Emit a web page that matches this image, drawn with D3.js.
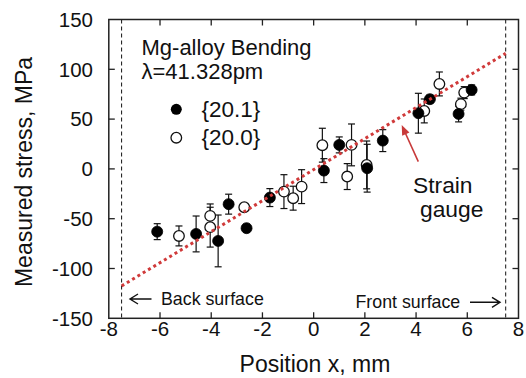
<!DOCTYPE html>
<html><head><meta charset="utf-8">
<script src="https://cdn.jsdelivr.net/npm/d3@7"></script>
<style>body{margin:0;background:#fff;} text{font-family:"Liberation Sans",Arial,Helvetica,sans-serif;fill:#111;}</style>
</head><body><svg id="c" width="526" height="378"></svg>
<script>
// {20.1} filled: position (mm), stress (MPa), error (MPa)
const filledX   = [-6.11,-4.59,-3.73,-3.32,-2.62,-1.71,0.40,1.00,2.09,2.70,4.09,4.54,6.17,5.66];
const filledY   = [-63.0,-65.3,-72.3,-35.4,-59.5,-28.8,-1.7,24.1,0.7,28.4,55.9,70.0,79.3,55.2];
const filledErr = [8,18,26,10,4,9,12,8,24,11,20,4,5,8];
// {20.0} open
const openX   = [-5.26,-4.04,-4.04,-2.71,-1.16,-0.80,-0.47,0.34,1.31,1.48,2.07,4.32,4.91,5.75,5.88];
const openY   = [-67.3,-47.2,-58.5,-38.5,-22.8,-29.4,-17.8,23.8,-7.7,24.1,4.0,58.2,85.3,65.0,76.6];
const openErr = [10,12,20,3,17,12,17,17,13,21,24,12,12,6,6];
// strain gauge fit line
const fitX = [-7.5, 7.5];
const fitY = [-117.5, 116];
// surfaces
const surfaceX = [-7.5, 7.5];
const xTicks = [-8,-6,-4,-2,0,2,4,6,8];
const yTicks = [-150,-100,-50,0,50,100,150];
const seriesNames = ["{20.1}", "{20.0}"];

const svg = d3.select("#c");
const x = d3.scaleLinear().domain([-8,8]).range([108.8,518.5]);
const y = d3.scaleLinear().domain([-150,150]).range([318.3,19.5]);

// surface dashed lines
svg.selectAll(".surf").data(surfaceX).enter().append("line")
  .attr("x1",d=>x(d)).attr("x2",d=>x(d)).attr("y1",y(150)).attr("y2",y(-150))
  .attr("stroke","#111").attr("stroke-width",1).attr("stroke-dasharray","4,3");

// frame & ticks
const g = svg.append("g");
g.append("rect").attr("x",x(-8)).attr("y",y(150)).attr("width",x(8)-x(-8)).attr("height",y(-150)-y(150))
  .attr("fill","none").attr("stroke","#222").attr("stroke-width",1.5);
const tl = 6;
xTicks.slice(1,-1).forEach(t=>{
  g.append("line").attr("x1",x(t)).attr("x2",x(t)).attr("y1",y(-150)).attr("y2",y(-150)-tl).attr("stroke","#222").attr("stroke-width",1.3);
  g.append("line").attr("x1",x(t)).attr("x2",x(t)).attr("y1",y(150)).attr("y2",y(150)+tl).attr("stroke","#222").attr("stroke-width",1.3);
});
yTicks.slice(1,-1).forEach(t=>{
  g.append("line").attr("x1",x(-8)).attr("x2",x(-8)+tl).attr("y1",y(t)).attr("y2",y(t)).attr("stroke","#222").attr("stroke-width",1.3);
  g.append("line").attr("x1",x(8)).attr("x2",x(8)-tl).attr("y1",y(t)).attr("y2",y(t)).attr("stroke","#222").attr("stroke-width",1.3);
});
xTicks.forEach(t=>{
  svg.append("text").attr("x",x(t)).attr("y",336).attr("text-anchor","middle").style("font-size","20.5px").text(t);
});
yTicks.forEach(t=>{
  svg.append("text").attr("x",93).attr("y",y(t)).attr("dy","0.36em").attr("text-anchor","end").style("font-size","20.5px").text(t);
});
svg.append("text").attr("transform","translate(31.5,172) rotate(-90)").attr("text-anchor","middle").style("font-size","23px").text("Measured stress, MPa");
svg.append("text").attr("x",315).attr("y",371.5).attr("text-anchor","middle").style("font-size","23px").text("Position x, mm");

// error bars
function errBars(xs,ys,es){
  const cw=3.5;
  xs.forEach((xv,i)=>{
    const px=x(xv), y1=y(ys[i]+es[i]), y2=y(ys[i]-es[i]);
    svg.append("line").attr("x1",px).attr("x2",px).attr("y1",y1).attr("y2",y2).attr("stroke","#111").attr("stroke-width",1.2);
    [y1,y2].forEach(yy=>svg.append("line").attr("x1",px-cw).attr("x2",px+cw).attr("y1",yy).attr("y2",yy).attr("stroke","#111").attr("stroke-width",1.2));
  });
}
errBars(filledX,filledY,filledErr);
errBars(openX,openY,openErr);

svg.selectAll(".op").data(openX).enter().append("circle")
  .attr("cx",d=>x(d)).attr("cy",(d,i)=>y(openY[i])).attr("r",5.3)
  .attr("fill","#fff").attr("stroke","#111").attr("stroke-width",1.3);
svg.selectAll(".fp").data(filledX).enter().append("circle")
  .attr("cx",d=>x(d)).attr("cy",(d,i)=>y(filledY[i])).attr("r",5.5)
  .attr("fill","#000").attr("stroke","#000").attr("stroke-width",0.8);

// fit line (dotted red)
svg.append("line").attr("x1",x(fitX[0])).attr("x2",x(fitX[1])).attr("y1",y(fitY[0])).attr("y2",y(fitY[1]))
  .attr("stroke","#d03a3a").attr("stroke-width",3).attr("stroke-dasharray","3,3.2");

// title
svg.append("text").attr("x",141.5).attr("y",55).style("font-size","22px").text("Mg-alloy Bending");
svg.append("text").attr("x",141.5).attr("y",79).style("font-size","22px").text("λ=41.328pm");

// legend
svg.append("circle").attr("cx",176.3).attr("cy",109.3).attr("r",5.5).attr("fill","#000");
svg.append("circle").attr("cx",176.3).attr("cy",137.7).attr("r",5.3).attr("fill","#fff").attr("stroke","#111").attr("stroke-width",1.3);
svg.append("text").attr("x",201.5).attr("y",116.5).style("font-size","22.5px").text(seriesNames[0]);
svg.append("text").attr("x",201.5).attr("y",145).style("font-size","22.5px").text(seriesNames[1]);

// strain gauge annotation
svg.append("text").attr("x",413).attr("y",193.3).style("font-size","22.8px").text("Strain");
svg.append("text").attr("x",420).attr("y",216.5).style("font-size","22.8px").text("gauge");
const ax1=418.3, ay1=161.7, ax2=401.7, ay2=125;
const ang=Math.atan2(ay2-ay1,ax2-ax1), hl=10, hw=4;
svg.append("line").attr("x1",ax1).attr("y1",ay1).attr("x2",ax2-Math.cos(ang)*6).attr("y2",ay2-Math.sin(ang)*6).attr("stroke","#c83a3a").attr("stroke-width",1.6);
const bx=ax2-Math.cos(ang)*hl, by=ay2-Math.sin(ang)*hl;
svg.append("path").attr("d",`M${ax2},${ay2}L${bx+Math.sin(ang)*hw},${by-Math.cos(ang)*hw}L${bx-Math.sin(ang)*hw},${by+Math.cos(ang)*hw}Z`).attr("fill","#c83a3a");

// surface labels with arrows
svg.append("text").attr("x",161).attr("y",305).style("font-size","17.8px").text("Back surface");
svg.append("text").attr("x",355.5).attr("y",307.5).style("font-size","17.8px").text("Front surface");
svg.append("path").attr("d","M151.5,299H130M138,294L130,299L138,304").attr("fill","none").attr("stroke","#111").attr("stroke-width",1.4);
svg.append("path").attr("d","M470,302.3H500M492,297.3L500,302.3L492,307.3").attr("fill","none").attr("stroke","#111").attr("stroke-width",1.4);
</script></body></html>
